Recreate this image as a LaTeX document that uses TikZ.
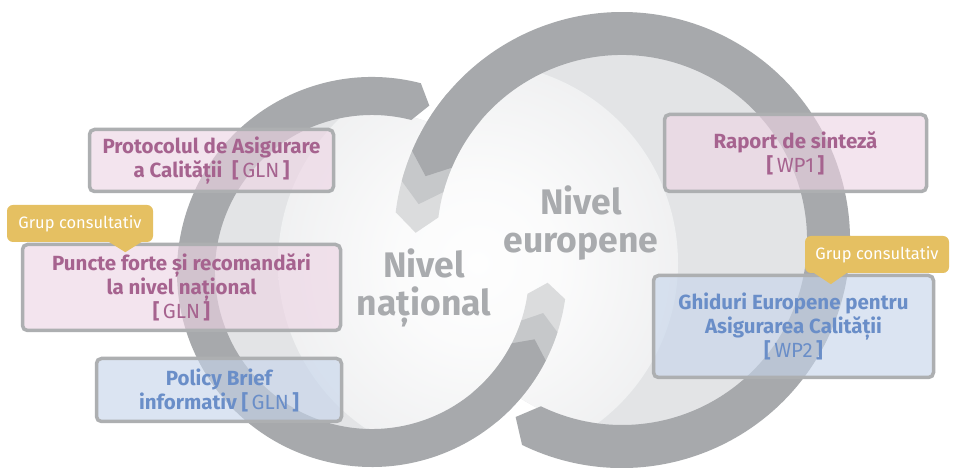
\documentclass[tikz,border=0pt]{standalone}
\usepackage{fontspec}
\setmainfont{Fira Sans}
\usetikzlibrary{calc}
\definecolor{ringc}{HTML}{A7A9AC}
\definecolor{midc}{HTML}{C6C8CA}
\definecolor{lightc}{HTML}{DBDCDD}
\definecolor{bgc}{HTML}{E3E4E6}
\definecolor{titlec}{HTML}{A9ABAE}
\definecolor{pinktext}{HTML}{A6638F}
\definecolor{bluetext}{HTML}{6A8EC8}
\definecolor{pinkfill}{HTML}{EDD4E4}
\definecolor{bluefill}{HTML}{C6D5EB}
\definecolor{borderc}{HTML}{ADAFB1}
\definecolor{tagc}{HTML}{E5C062}
\pgfdeclareradialshading{glow}{\pgfpoint{0bp}{0bp}}{color(0bp)=(white!96!bgc); color(10bp)=(white!85!bgc); color(22bp)=(white!55!bgc); color(36bp)=(white!20!bgc); color(50bp)=(bgc)}
\newcommand\brk[1]{{\bfseries[}\,{\mdseries #1}\,{\bfseries]}}
\tikzset{
 band/.style n args={5}{insert path={(#3:#2) arc[start angle=#3, end angle=#4, radius=#2] -- ({#4+#5}:{(#1+#2)/2}) -- (#4:#1) arc[start angle=#4, end angle=#3, radius=#1] -- ({#3-#5}:{(#1+#2)/2}) -- cycle}},
 infobox/.style={draw=borderc, line width=3.5pt, rounded corners=5pt, fill opacity=0.62, text opacity=1, draw opacity=1, align=center, font=\bfseries\fontsize{20.5}{24}\selectfont, inner sep=0pt},
 pinkbox/.style={infobox, fill=pinkfill, text=pinktext},
 bluebox/.style={infobox, fill=bluefill, text=bluetext},
 tagbox/.style={fill=tagc, rounded corners=6pt, text=white, font=\fontsize{16.5}{18}\selectfont, inner sep=0pt},
 titletext/.style={text=titlec, font=\bfseries\fontsize{35.5}{38}\selectfont, align=center, inner sep=0pt},
}
\begin{document}
\begin{tikzpicture}[x=1pt,y=1pt]
\path[use as bounding box] (0,0) rectangle (955,468);
\fill[white] (0,0) rectangle (955,468);
% interiors
\fill[bgc] (372,196) circle (160);
\fill[bgc] (622,228) circle (188);
\begin{scope}
\clip (372,196) circle (160) (622,228) circle (188);
\shade[shading=glow] (478,205) circle (200);
\end{scope}
% right ring (european)
\begin{scope}[shift={(622,228)}]
\fill[lightc, band={185}{228}{140}{173}{5}];
\fill[midc, band={185}{228}{140}{165}{5}];
\fill[ringc, band={185}{228}{-116}{157}{5}];
\end{scope}
% left ring (national)
\begin{scope}[shift={(372,196)}]
\fill[lightc, band={157}{195}{310}{352}{4.5}];
\fill[midc, band={157}{195}{310}{342}{4.5}];
\fill[ringc, band={157}{195}{75.5}{333}{4.5}];
\end{scope}
% titles
\node[titletext] (natl) at (424,180) {Nivel\\național};
\node[titletext] (euro) at (581,245) {Nivel\\europene};
% boxes
\node[pinkbox, minimum width=244, minimum height=62] (proto) at (211.5,307.5) {Protocolul de Asigurare\\a Calității~~\brk{GLN}};
\node[pinkbox, minimum width=318, minimum height=86] (puncte) at (181.5,180.5) {Puncte forte și recomandări\\la nivel național\\\brk{GLN}};
\node[bluebox, minimum width=245, minimum height=63] (policy) at (219,78) {Policy Brief\\informativ \brk{GLN}};
\node[pinkbox, minimum width=262, minimum height=77] (raport) at (795.5,315) {Raport de sinteză\\\brk{WP1}};
\node[bluebox, minimum width=280, minimum height=102] (ghid) at (793.5,141.5) {Ghiduri Europene pentru\\Asigurarea Calității\\\brk{WP2}};
% tags
\node[tagbox, minimum width=146, minimum height=37] (tagL) at (80,244.5) {Grup consultativ};
\fill[tagc] ([xshift=101pt,yshift=1pt]tagL.south west) -- ([xshift=136pt,yshift=1pt]tagL.south west) -- ([xshift=118.5pt,yshift=-10pt]tagL.south west) -- cycle;
\node[tagbox, minimum width=144, minimum height=37] (tagR) at (877,213.5) {Grup consultativ};
\fill[tagc] ([xshift=8pt,yshift=1pt]tagR.south west) -- ([xshift=43pt,yshift=1pt]tagR.south west) -- ([xshift=26pt,yshift=-11pt]tagR.south west) -- cycle;
\end{tikzpicture}
\end{document}
